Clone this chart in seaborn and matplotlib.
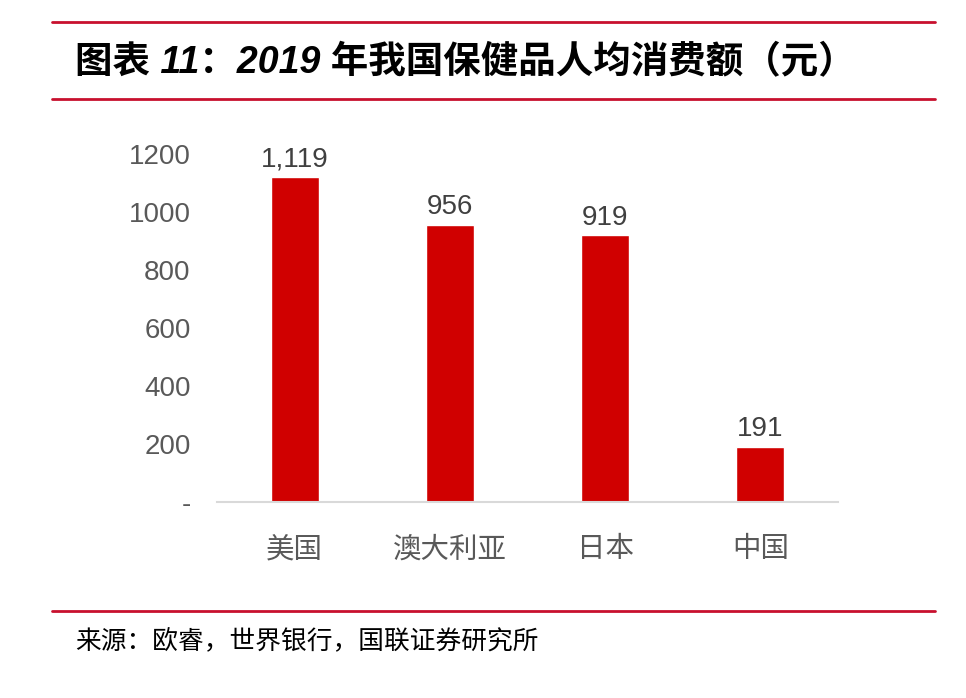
import matplotlib.pyplot as plt
import seaborn as sns
import pandas as pd
from matplotlib.lines import Line2D

# 数据
countries = ['美国', '澳大利亚', '日本', '中国']
spending = [1119, 956, 919, 191]
yticks = [0, 200, 400, 600, 800, 1000, 1200]
ytick_labels = ['-', '200', '400', '600', '800', '1000', '1200']

df = pd.DataFrame({'country': countries, 'spending': spending})

sns.set_style('white')
plt.rcParams['font.family'] = ['Liberation Sans', 'Noto Sans CJK SC', 'DejaVu Sans']

fig = plt.figure(figsize=(9.66, 6.98), dpi=100)
ax = fig.add_axes([217 / 966, 1 - 502 / 698, (838 - 217) / 966, (502 - 154) / 698])

sns.barplot(data=df, x='country', y='spending', color='#d00000', width=0.31,
            saturation=1, ax=ax)

ax.set_ylim(0, 1200)
ax.set_yticks(yticks)
ax.set_yticklabels(ytick_labels)
ax.set_xlabel('')
ax.set_ylabel('')
ax.tick_params(axis='y', length=0, labelsize=20, labelcolor='#595959', pad=19)
ax.tick_params(axis='x', length=0, labelsize=20.5, labelcolor='#595959', pad=25)

for side in ['top', 'right', 'left']:
    ax.spines[side].set_visible(False)
ax.spines['bottom'].set_color('#d9d9d9')
ax.spines['bottom'].set_linewidth(1.5)

for i, v in enumerate(spending):
    ax.text(i, v + 16, f'{v:,}', ha='center', va='bottom', fontsize=20, color='#404040')

# 红色分隔线
for y in [22, 99, 611]:
    fig.add_artist(Line2D([52 / 966, 935 / 966], [1 - y / 698, 1 - y / 698],
                          color='#c8102e', linewidth=2))

fig.text(75 / 966, 1 - 63 / 698, '图表 11：2019 年我国保健品人均消费额（元）',
         fontsize=27, fontweight='bold', style='italic', va='center', ha='left',
         color='black')
fig.text(75 / 966, 1 - 641 / 698, '来源：欧睿，世界银行，国联证券研究所',
         fontsize=18.5, va='center', ha='left', color='black')

plt.savefig('out.png', dpi=100)
